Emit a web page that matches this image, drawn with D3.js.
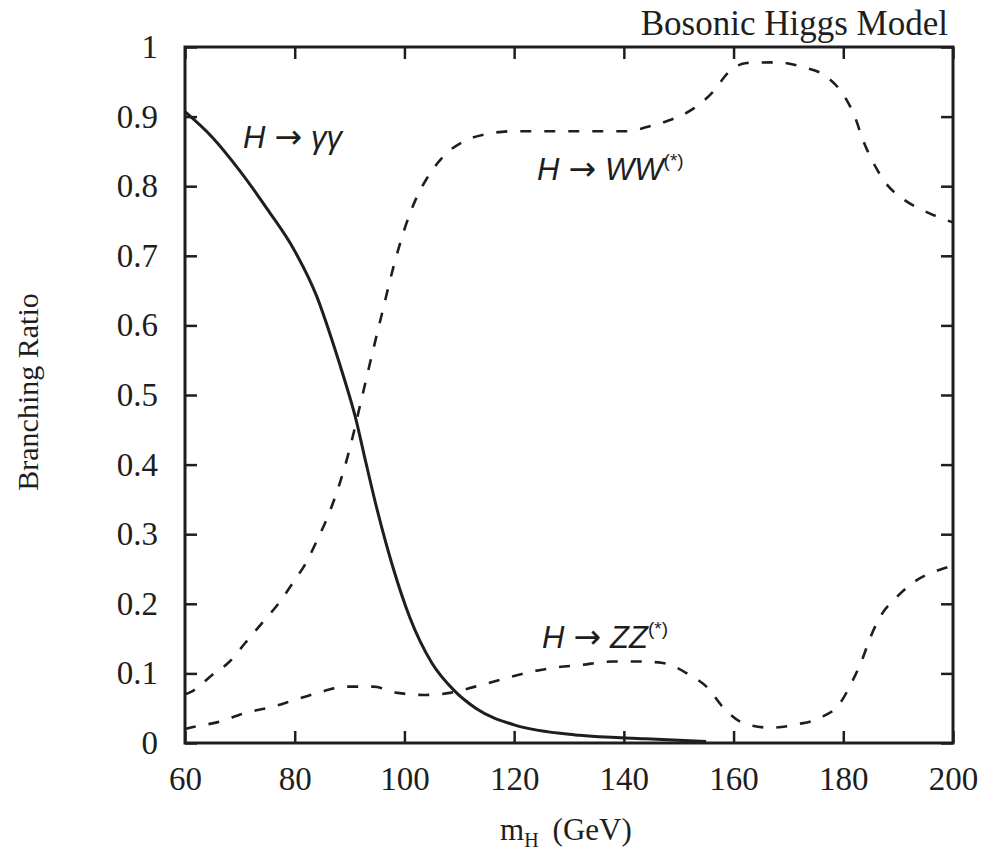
<!DOCTYPE html>
<html>
<head>
<meta charset="utf-8">
<script src="https://cdn.jsdelivr.net/npm/d3@7"></script>
<style>
    body { margin: 0; background: #fff; }
    svg { display: block; }
</style>
</head>
<body>
<svg id="chart" width="987" height="852"></svg>
<script>
const xTicks = [60, 80, 100, 120, 140, 160, 180, 200];
const yTicks = [0, 0.1, 0.2, 0.3, 0.4, 0.5, 0.6, 0.7, 0.8, 0.9, 1];

// H -> gamma gamma (solid)
const massGG = [60, 65, 70, 75, 80, 84, 87, 89, 91, 93, 95, 98, 101, 105, 109, 113, 120, 132, 144, 155];
const brGG = [0.907, 0.87, 0.822, 0.767, 0.707, 0.642, 0.574, 0.524, 0.47, 0.402, 0.336, 0.25, 0.18, 0.115, 0.076, 0.05, 0.026, 0.011, 0.006, 0.002];

// H -> WW(*) (dashed)
const massWW = [60, 61, 65, 68, 71, 74, 77, 80, 82, 84, 86, 88, 90, 92, 94, 96, 98, 100, 102, 104, 107, 110.7, 115, 120, 130, 140.6, 144.2, 148.4, 152.6, 156.2, 159, 162.4, 167.9, 172.7, 177, 180.3, 182.1, 183.6, 185.4, 187.6, 191.2, 194.9, 198.9, 200];
const brWW = [0.07, 0.073, 0.098, 0.116, 0.144, 0.172, 0.2, 0.234, 0.258, 0.29, 0.325, 0.368, 0.422, 0.488, 0.555, 0.62, 0.684, 0.738, 0.78, 0.81, 0.842, 0.864, 0.875, 0.879, 0.879, 0.879, 0.885, 0.895, 0.911, 0.935, 0.963, 0.977, 0.978, 0.971, 0.957, 0.928, 0.9, 0.866, 0.835, 0.806, 0.78, 0.764, 0.751, 0.748];

// H -> ZZ(*) (dashed)
const massZZ = [60, 61.5, 66, 70.9, 75.9, 80, 84.6, 89.2, 94.3, 98.8, 103.7, 108.3, 112.9, 118, 122.9, 127.1, 132, 138, 143, 147.1, 151.5, 155.3, 158, 161.7, 166.6, 171.7, 175.7, 179.4, 181.6, 183.4, 184.9, 186.7, 189.8, 193.4, 197.6, 200];
const brZZ = [0.02, 0.023, 0.03, 0.043, 0.052, 0.062, 0.073, 0.081, 0.081, 0.072, 0.069, 0.072, 0.081, 0.092, 0.102, 0.108, 0.112, 0.117, 0.117, 0.115, 0.1, 0.079, 0.052, 0.029, 0.022, 0.027, 0.036, 0.057, 0.088, 0.119, 0.151, 0.181, 0.21, 0.234, 0.249, 0.255];

const width = 987, height = 852;
const margin = { top: 47, right: 34, bottom: 109, left: 185 };

const svg = d3.select('#chart');

const x = d3.scaleLinear().domain([60, 200]).range([margin.left, width - margin.right]);
const y = d3.scaleLinear().domain([0, 1]).range([height - margin.bottom, margin.top]);

const serif = '"Liberation Serif", "Times New Roman", serif';
const sans = '"Liberation Sans", Arial, sans-serif';
const ink = '#1e1e1e';

const series = [
    { name: 'gg', mass: massGG, br: brGG, dash: null, width: 3 },
    { name: 'ww', mass: massWW, br: brWW, dash: '11,13', width: 2.6 },
    { name: 'zz', mass: massZZ, br: brZZ, dash: '11,13', width: 2.6 }
];

const line = d3.line()
    .x(d => x(d[0]))
    .y(d => y(d[1]))
    .curve(d3.curveMonotoneX);

svg.append('g')
    .selectAll('path')
    .data(series)
    .enter()
    .append('path')
    .attr('d', s => line(s.mass.map((m, i) => [m, s.br[i]])))
    .attr('fill', 'none')
    .attr('stroke', ink)
    .attr('stroke-width', s => s.width)
    .attr('stroke-dasharray', s => s.dash);

// axes with inward ticks on all four sides
const tickLen = 12;
const styleAxis = g => {
    g.select('.domain').remove();
    g.selectAll('.tick line').attr('stroke', ink).attr('stroke-width', 2.5);
    g.selectAll('.tick text')
        .attr('fill', ink)
        .style('font-family', serif)
        .style('font-size', '33px');
};

svg.append('g')
    .attr('transform', `translate(0,${y(0)})`)
    .call(d3.axisBottom(x).tickValues(xTicks).tickFormat(d3.format('d')).tickSize(-tickLen).tickPadding(24))
    .call(styleAxis);

svg.append('g')
    .attr('transform', `translate(0,${y(1)})`)
    .call(d3.axisTop(x).tickValues(xTicks).tickFormat('').tickSize(-tickLen))
    .call(styleAxis);

svg.append('g')
    .attr('transform', `translate(${x(60)},0)`)
    .call(d3.axisLeft(y).tickValues(yTicks).tickFormat(d => d === 0 || d === 1 ? d3.format('d')(d) : d3.format('.1f')(d)).tickSize(-tickLen).tickPadding(27))
    .call(styleAxis);

svg.append('g')
    .attr('transform', `translate(${x(200)},0)`)
    .call(d3.axisRight(y).tickValues(yTicks).tickFormat('').tickSize(-tickLen))
    .call(styleAxis);

// frame
svg.append('rect')
    .attr('x', x(60))
    .attr('y', y(1))
    .attr('width', x(200) - x(60))
    .attr('height', y(0) - y(1))
    .attr('fill', 'none')
    .attr('stroke', ink)
    .attr('stroke-width', 3);

// titles
svg.append('text')
    .attr('x', 948)
    .attr('y', 35)
    .attr('text-anchor', 'end')
    .style('font-family', serif)
    .style('font-size', '35px')
    .attr('fill', ink)
    .text('Bosonic Higgs Model');

svg.append('text')
    .attr('transform', 'translate(38,392) rotate(-90)')
    .attr('text-anchor', 'middle')
    .style('font-family', serif)
    .style('font-size', '30px')
    .attr('fill', ink)
    .text('Branching Ratio');

const xLabel = svg.append('text')
    .attr('x', 500)
    .attr('y', 840)
    .style('font-family', serif)
    .style('font-size', '31px')
    .attr('fill', ink);
xLabel.append('tspan').text('m');
xLabel.append('tspan').attr('dy', 7).style('font-size', '20px').text('H');
xLabel.append('tspan').attr('dy', -7).attr('dx', 14).text('(GeV)');

// curve labels
const labels = [
    { x: 243, y: 148, head: 'H', tail: '\u03b3\u03b3', sup: '' },
    { x: 537, y: 180, head: 'H', tail: 'WW', sup: '(*)' },
    { x: 542, y: 648, head: 'H', tail: 'ZZ', sup: '(*)' }
];

const lab = svg.append('g')
    .selectAll('text')
    .data(labels)
    .enter()
    .append('text')
    .attr('x', d => d.x)
    .attr('y', d => d.y)
    .style('font-family', sans)
    .style('font-style', 'italic')
    .style('font-size', '31px')
    .attr('fill', ink);

lab.append('tspan').text(d => d.head);
lab.append('tspan')
    .attr('dx', 9)
    .style('font-family', '"DejaVu Sans", sans-serif')
    .style('font-style', 'normal')
    .style('font-size', '33px')
    .text('\u2192');
lab.append('tspan').attr('dx', 9).text(d => d.tail);
lab.append('tspan')
    .attr('dy', -13)
    .style('font-size', '19px')
    .style('font-style', 'normal')
    .text(d => d.sup);
</script>
</body>
</html>
